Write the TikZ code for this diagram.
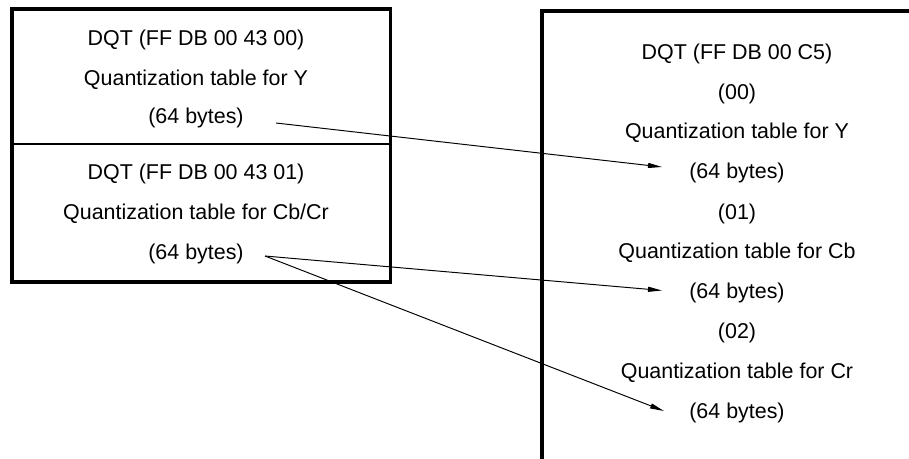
\documentclass[tikz,border=0pt]{standalone}
\usepackage{fontspec}
\setmainfont{Liberation Sans}
\usetikzlibrary{calc,arrows.meta}

\begin{document}
\begin{tikzpicture}[x=0.02cm,y=-0.02cm,
    txt/.style={anchor=base,inner sep=0pt,font=\fontsize{12.2}{14}\selectfont},
    frame/.style={line width=2pt},
    arr/.style={line width=0.55pt,-{Triangle[length=0.28cm,width=0.1cm]}}]
    \useasboundingbox (0,0) rectangle (909,459);

    % Two DQT segments
    \draw[frame] (12,9) rectangle (390.5,282);
    \draw[line width=0.7pt] (12,144) -- (390.5,144);
    \node[txt] (l0h) at (196,45.5) {DQT (FF DB 00 43 00)};
    \node[txt] (l0t) at (196,85.5) {Quantization table for Y};
    \node[txt] (l0b) at (196,124) {(64 bytes)};
    \node[txt] (l1h) at (196,180) {DQT (FF DB 00 43 01)};
    \node[txt] (l1t) at (196,219.5) {Quantization table for Cb/Cr};
    \node[txt] (l1b) at (196,259) {(64 bytes)};

    % One DQT segment
    \draw[frame] (915,11) -- (542,11) -- (542,465);
    \node[txt] (rh) at (737,60) {DQT (FF DB 00 C5)};
    \node[txt] (r0) at (737,100) {(00)};
    \node[txt] (r0t) at (737,139) {Quantization table for Y};
    \node[txt] (r0b) at (737,179) {(64 bytes)};
    \node[txt] (r1) at (737,219) {(01)};
    \node[txt] (r1t) at (737,258.5) {Quantization table for Cb};
    \node[txt] (r1b) at (737,298.5) {(64 bytes)};
    \node[txt] (r2) at (737,338.5) {(02)};
    \node[txt] (r2t) at (737,378) {Quantization table for Cr};
    \node[txt] (r2b) at (737,418) {(64 bytes)};

    % Table moves
    \draw[arr] ($(l0b.base east)+(32,-1)$) -- ($(r0b.base west)+(-27,-12)$);
    \draw[arr] ($(l1b.base east)+(21,-3)$) -- ($(r1b.base west)+(-27,-8)$);
    \draw[arr] ($(l1b.base east)+(21,-3)$) -- ($(r2b.base west)+(-25,-7)$);
\end{tikzpicture}
\end{document}
